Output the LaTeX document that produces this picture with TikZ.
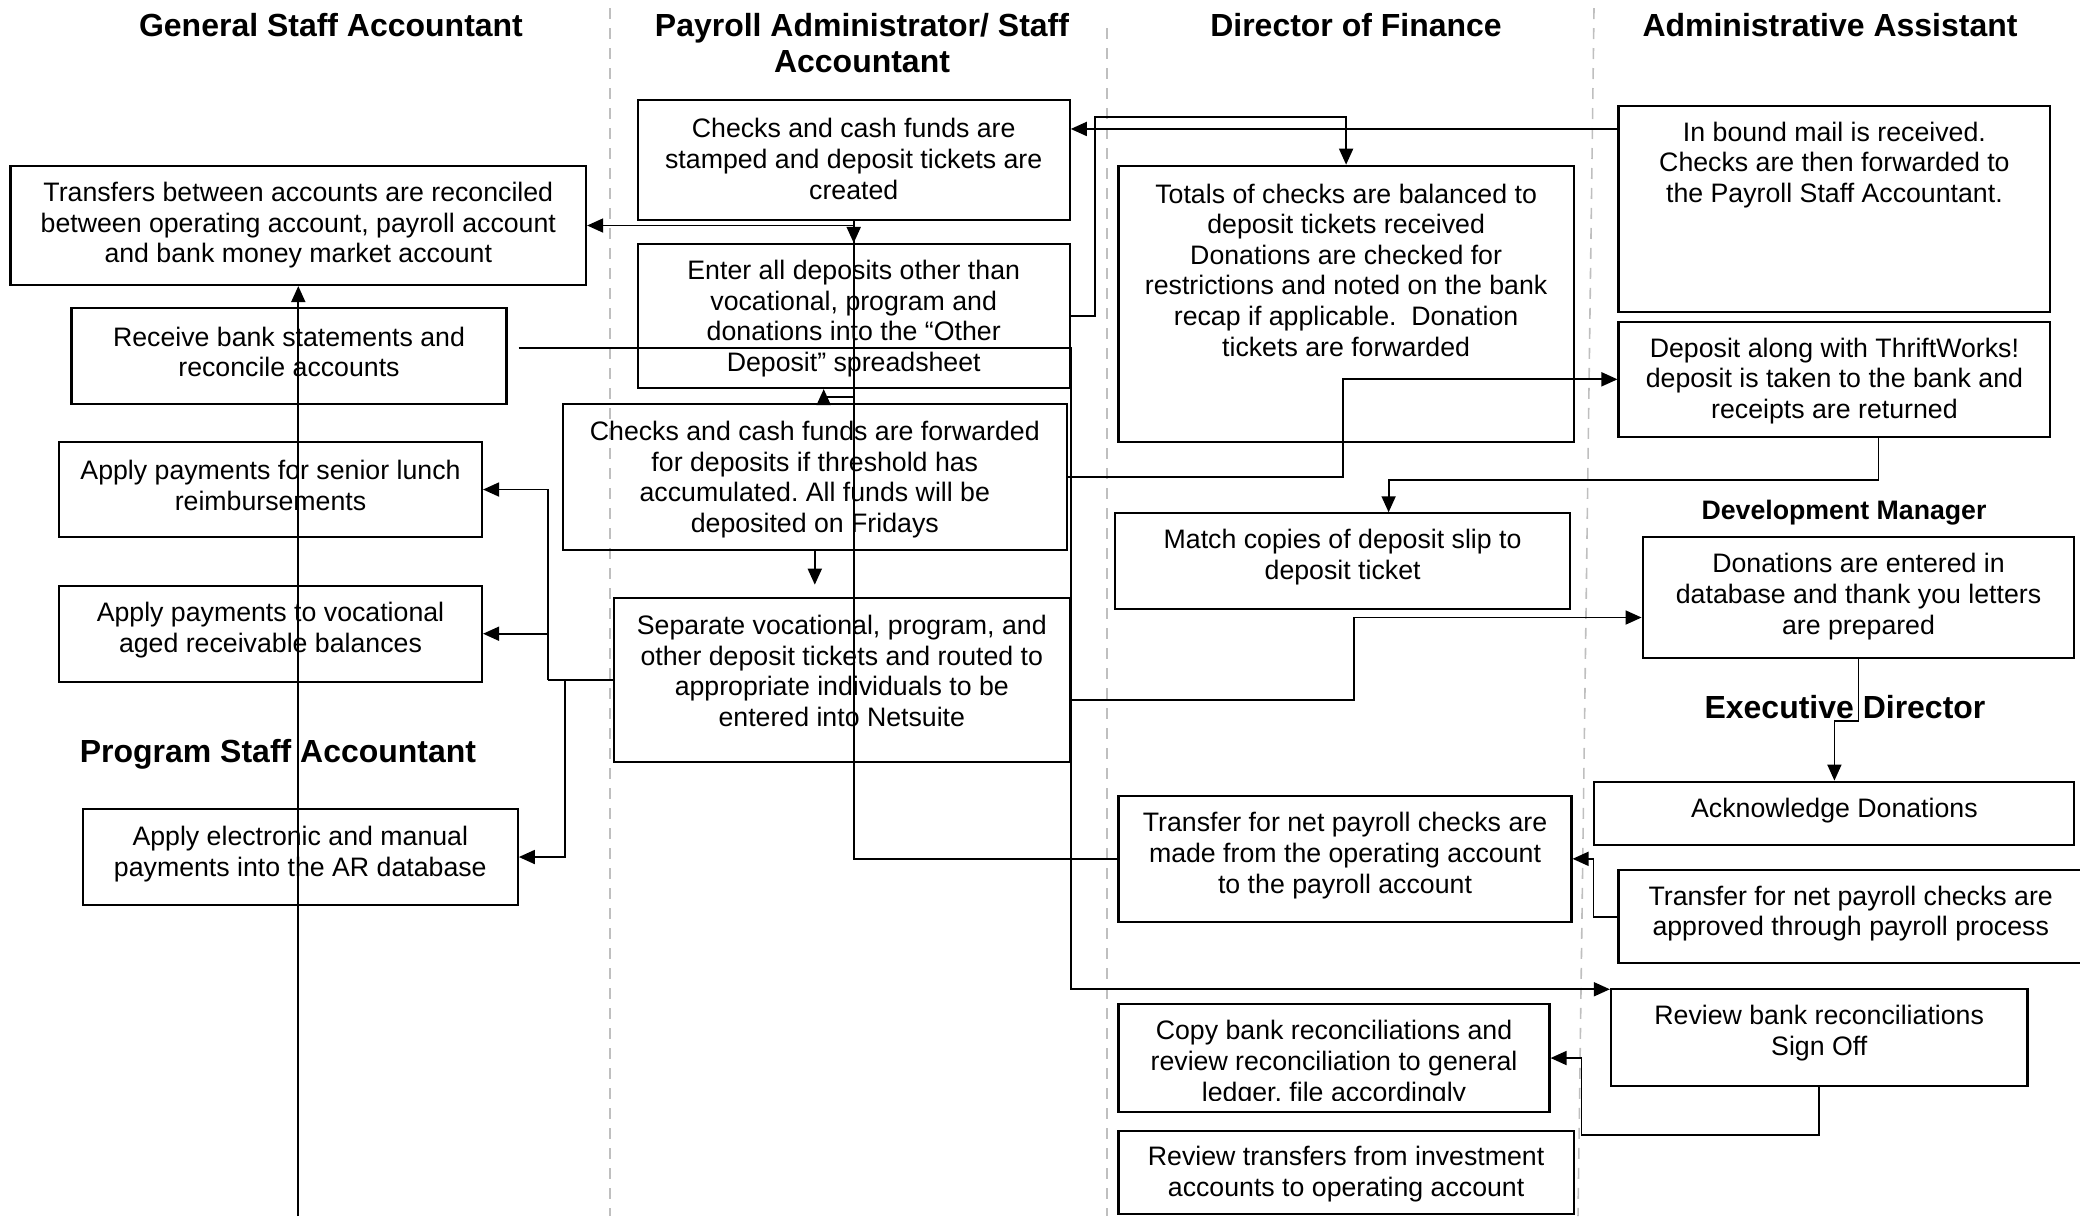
\documentclass[tikz,border=0pt]{standalone}
\usepackage{fontspec}
\setmainfont{Liberation Sans}
\usetikzlibrary{arrows.meta,calc}

\begin{document}
\begin{tikzpicture}
[x=0.1mm,y=-0.1mm,
  boxDecorate/.style={shape=rectangle,draw,line width=0.6pt,inner sep=0pt},%
  textDecorate/.style={align=center,inner sep=0pt,font=\fontsize{7.6}{8.7}\selectfont\frenchspacing},%
  headDecorate/.style={align=center,inner sep=0pt,font=\fontsize{9.1}{10.4}\selectfont\bfseries},%
  laneDecorate/.style={draw=black!25,line width=0.45pt,dash pattern=on 1.1mm off 0.9mm},%
  wireDecorate/.style={draw,line width=0.5pt},%
  arrowDecorate/.style={wireDecorate,-{Triangle[length=1.6mm,width=1.4mm]}}]
\clip (0,0) rectangle (2080,1216);
%% swim lane dividers
\draw[laneDecorate] (610,8) -- (610,1216);
\draw[laneDecorate] (1107,28) -- (1107,1216);
\draw[laneDecorate] (1594,8) -- (1578,1216);
%% lane headings
\node (gsa) at (331,25) [headDecorate] {General Staff Accountant};
\node (pay) at (862,43) [headDecorate] {Payroll Administrator/ Staff\\Accountant};
\node (dof) at (1356,25) [headDecorate] {Director of Finance};
\node (aa) at (1830,25) [headDecorate] {Administrative Assistant};
\node (dm) at (1844,513) [headDecorate,font=\fontsize{7.6}{8.7}\selectfont\bfseries] {Development Manager};
\node (ed) at (1845,707) [headDecorate] {Executive Director};
\node (psa) at (278,754) [headDecorate] {Program Staff Accountant};
%% process boxes: name/x/y/width/height/text y/text
\foreach \name/\x/\y/\w/\h/\ty/\txt in {
  trans/298.3/225.5/575.5/119/225.5/{Transfers between accounts are reconciled\\between operating account, payroll account\\and bank money market account},
  recv/289/356/435/96/352/{Receive bank statements and\\reconcile accounts},
  stamp/853.7/160/432/120/159/{Checks and cash funds are\\stamped and deposit tickets are\\created},
  enter/853.7/316/432/144/318.5/{Enter all deposits other than\\vocational, program and\\donations into the ``Other\\Deposit'' spreadsheet},
  fwd/814.8/477/504.4/146/479.5/{Checks and cash funds are forwarded\\for deposits if threshold has\\accumulated. All funds will be\\deposited on Fridays},
  sep/841.8/680/456/164.6/671/{Separate vocational, program, and\\other deposit tickets and routed to\\appropriate individuals to be\\entered into Netsuite},
  lunch/270.5/489.5/423/95.6/485.5/{Apply payments for senior lunch\\reimbursements},
  voc/270.5/633.7/423/96/630/{Apply payments to vocational\\aged receivable balances},
  ar/300.3/857/435/95.4/854/{Apply electronic and manual\\payments into the AR database},
  totals/1346.1/303.7/455.2/276/270/{Totals of checks are balanced to\\deposit tickets received\\Donations are checked for\\restrictions and noted on the bank\\recap if applicable.\ \ Donation\\tickets are forwarded},
  mail/1834.4/209.2/431.8/206.3/165/{In bound mail is received.\\Checks are then forwarded to\\the Payroll Staff Accountant.},
  thrift/1834.4/379.3/431.8/115.3/381/{Deposit along with ThriftWorks!\\deposit is taken to the bank and\\receipts are returned},
  match/1342.6/561.3/455.2/96/557/{Match copies of deposit slip to\\deposit ticket},
  donent/1858.5/597.5/431.8/120.4/596.5/{Donations are entered in\\database and thank you letters\\are prepared},
  ack/1834.4/813.3/480/63.3/811/{Acknowledge Donations},
  tmade/1345/858.8/453/125.7/855.5/{Transfer for net payroll checks are\\made from the operating account\\to the payroll account},
  tappr/1850.7/916.7/464.5/93.3/913.5/{Transfer for net payroll checks are\\approved through payroll process},
  rev/1819.2/1037.5/416.6/96.4/1033/{Review bank reconciliations\\Sign Off},
  invest/1346.1/1172.5/455.2/83.5/1174/{Review transfers from investment\\accounts to operating account}}
{
  \node (\name) at (\x,\y) [boxDecorate,minimum width=\w*0.1mm,minimum height=\h*0.1mm] {};
  \node (\name-txt) at (\x,\ty) [textDecorate] {\txt};
}
%% this one has its last line cut off by the box
\node (copy) at (1334,1058) [boxDecorate,minimum width=43.1mm,minimum height=10.74mm] {};
\begin{scope}
  \clip (copy.north west) rectangle ($(copy.south east)+(0,-12)$);
  \node (copy-txt) at (1334,1063.5) [textDecorate] {Copy bank reconciliations and\\review reconciliation to general\\ledger, file accordingly};
\end{scope}
%% connectors
\draw[arrowDecorate] ($(mail.north west)+(0,24)$) -- ($(stamp.north east)+(0,30)$);
\draw[arrowDecorate] (enter.east) -- ++(24.5,0) |- ($(totals.north)+(0,-48)$) -- (totals.north);
\draw[arrowDecorate] (stamp.south) -- (enter.north);
\draw[arrowDecorate] (tmade.west) -| (stamp.south |- trans.east) -- (trans.east);
\draw[arrowDecorate] (enter.south) -- ++(0,8) -| ($(enter.south)+(-30,0)$);
\draw[arrowDecorate,shorten >=1.2mm] (fwd.south) -- (fwd.south |- sep.north);
\draw[arrowDecorate] ($(recv.east)+(11,-8)$) -- ($(recv.east -| enter.east)+(0,-8)$) |- ($(rev.north west)+(0,1)$);
\draw[arrowDecorate] (fwd.east) -- ++(275,0) |- (thrift.west);
\draw[arrowDecorate] ($(thrift.south)+(44,0)$) -- ++(0,42) -| ($(match.north)+(46,0)$);
\draw[arrowDecorate] ($(sep.east)+(0,20)$) -- ++(283,0) |- ($(donent.west)+(0,20)$);
\draw[arrowDecorate] (donent.south) -- ++(0,62) -| (ack.north);
\draw[arrowDecorate] (tappr.west) -- ++(-24,0) |- (tmade.east);
\draw[arrowDecorate] (rev.south) -- ++(0,48) -| ($(copy.east)+(31,0)$) -- (copy.east);
\draw[wireDecorate] (sep.west) -- ++(-65,0) coordinate (sepJoin);
\draw[arrowDecorate] (sepJoin) |- (lunch.east);
\draw[arrowDecorate] (sepJoin) |- (voc.east);
\draw[arrowDecorate] ($(sep.west)+(-48,0)$) |- (ar.east);
\coordinate (gsaBottom) at (299,1216);
\draw[arrowDecorate] (trans.south |- gsaBottom) -- (trans.south);
\end{tikzpicture}
\end{document}
